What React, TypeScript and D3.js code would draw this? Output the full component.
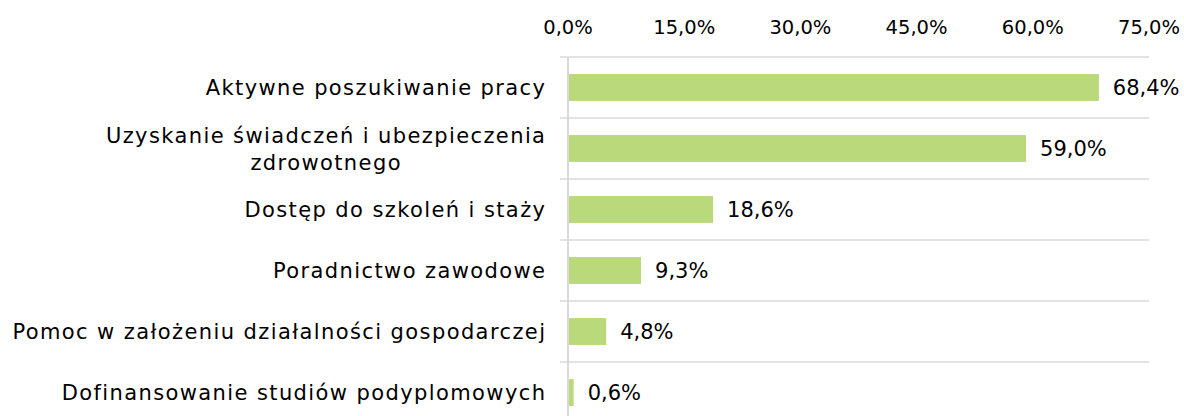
import React, { useEffect, useRef } from 'react';
import * as d3 from 'd3';

const categories = [
  'Aktywne poszukiwanie pracy',
  'Uzyskanie świadczeń i ubezpieczenia\nzdrowotnego',
  'Dostęp do szkoleń i staży',
  'Poradnictwo zawodowe',
  'Pomoc w założeniu działalności gospodarczej',
  'Dofinansowanie studiów podyplomowych',
];
const values = [68.4, 59.0, 18.6, 9.3, 4.8, 0.6];
const ticks = [0, 15, 30, 45, 60, 75];

const fmt = (v: number) => v.toFixed(1).replace('.', ',') + '%';

const App = () => {
  const svgRef = useRef<SVGSVGElement>(null);

  useEffect(() => {
    const width = 1184;
    const height = 416;
    const margin = { top: 57, left: 568, right: 35 };
    const font = '"DejaVu Sans", sans-serif';
    const spacing = 1.4;

    const svg = d3.select(svgRef.current);
    svg.selectAll('*').remove();
    svg.attr('width', width).attr('height', height);

    const x = d3.scaleLinear().domain([0, 75]).range([margin.left, width - margin.right]);
    const y = d3.scaleBand<number>()
      .domain(d3.range(categories.length))
      .range([margin.top, margin.top + 61 * categories.length])
      .paddingInner(0.56)
      .paddingOuter(0.28);
    const step = y.step();

    // category separators (tick marks between categories)
    const g = svg.append('g');
    d3.range(categories.length + 1).forEach(i => {
      const yy = margin.top + i * step;
      g.append('line')
        .attr('x1', margin.left - 8).attr('x2', x(75))
        .attr('y1', yy).attr('y2', yy)
        .attr('stroke', '#d9d9d9').attr('stroke-width', 1.5);
    });

    // vertical axis
    g.append('line')
      .attr('x1', margin.left).attr('x2', margin.left)
      .attr('y1', margin.top).attr('y2', margin.top + step * categories.length)
      .attr('stroke', '#d9d9d9').attr('stroke-width', 2);

    // top tick labels
    svg.append('g').selectAll('text')
      .data(ticks)
      .enter()
      .append('text')
      .attr('x', d => x(d))
      .attr('y', 34)
      .attr('text-anchor', 'middle')
      .style('font-family', font)
      .style('font-size', '19.5px')
      .attr('fill', '#000')
      .text(d => fmt(d));

    // bars
    svg.append('g').selectAll('rect')
      .data(values)
      .enter()
      .append('rect')
      .attr('x', x(0) + 1)
      .attr('y', (d, i) => y(i)!)
      .attr('width', d => x(d) - x(0))
      .attr('height', y.bandwidth())
      .attr('fill', '#b9d97b');

    // value labels
    svg.append('g').selectAll('text')
      .data(values)
      .enter()
      .append('text')
      .attr('x', d => x(d) + 15)
      .attr('y', (d, i) => y(i)! + y.bandwidth() / 2)
      .attr('dy', '0.38em')
      .style('font-family', font)
      .style('font-size', '21px')
      .attr('fill', '#000')
      .text(d => fmt(d));

    // category labels (multi-line ones are centred inside a right-aligned block)
    const labelRight = 545 + spacing;
    const lineH = 27;
    categories.forEach((c, i) => {
      const lines = c.split('\n');
      const cy = y(i)! + y.bandwidth() / 2;
      const t = svg.append('text')
        .style('font-family', font)
        .style('font-size', '21px')
        .style('letter-spacing', `${spacing}px`)
        .attr('fill', '#000');
      lines.forEach((ln, j) => {
        t.append('tspan')
          .attr('x', 0)
          .attr('y', cy + (j - (lines.length - 1) / 2) * lineH)
          .attr('dy', '0.36em')
          .text(ln);
      });
      if (lines.length === 1) {
        t.attr('text-anchor', 'end').selectAll('tspan').attr('x', labelRight);
      } else {
        const w = (t.node() as SVGTextElement).getBBox().width;
        t.attr('text-anchor', 'middle').selectAll('tspan').attr('x', labelRight - w / 2);
      }
    });
  }, []);

  return (
    <div style={{ position: 'absolute', left: 0, top: 0, background: '#fff' }}>
      <svg ref={svgRef} style={{ display: 'block' }}></svg>
    </div>
  );
};

export default App;
